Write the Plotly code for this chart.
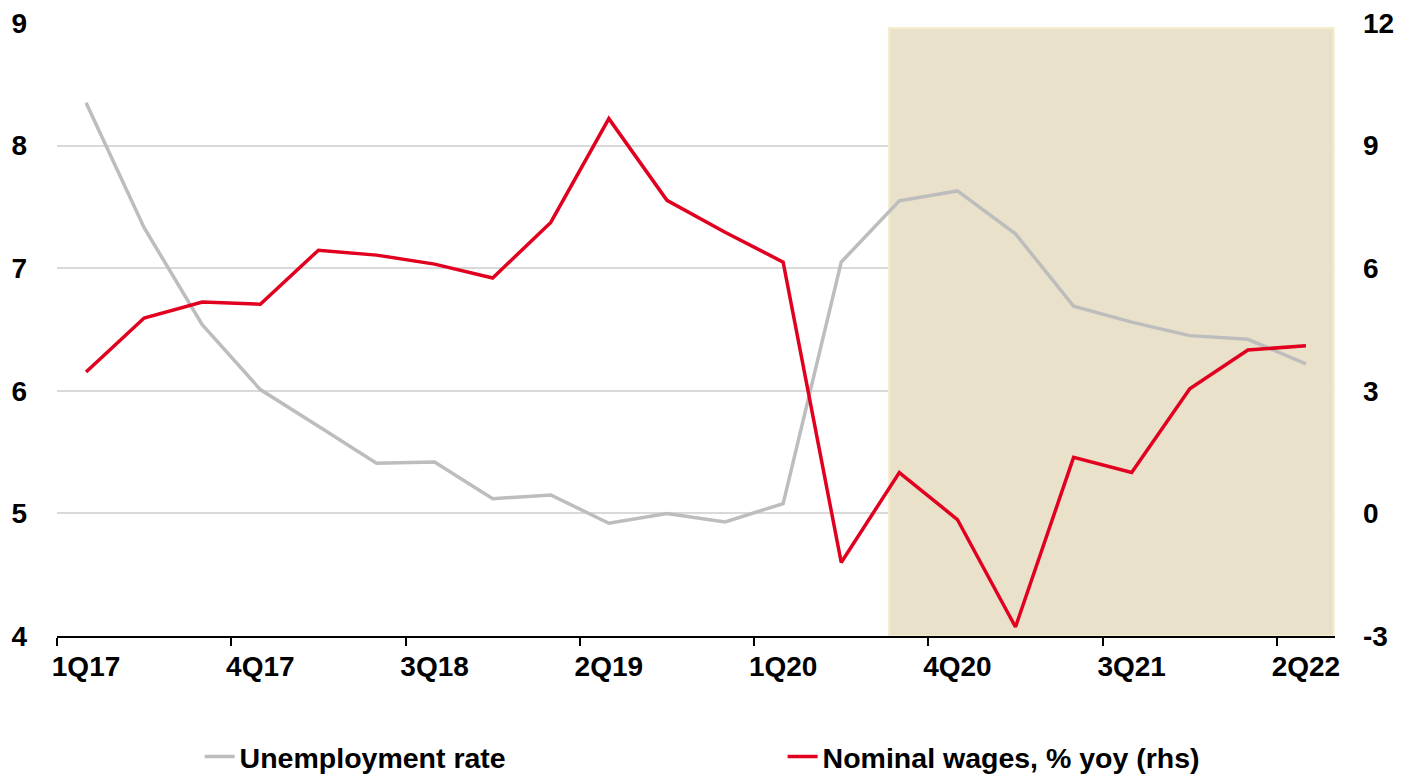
import plotly.graph_objects as go

quarters = ["1Q17","2Q17","3Q17","4Q17","1Q18","2Q18","3Q18","4Q18","1Q19","2Q19","3Q19","4Q19",
            "1Q20","2Q20","3Q20","4Q20","1Q21","2Q21","3Q21","4Q21","1Q22","2Q22"]
unemployment = [8.35,7.33,6.54,6.01,5.71,5.41,5.42,5.12,5.15,4.92,5.00,4.93,
                5.08,7.05,7.55,7.63,7.28,6.69,6.56,6.45,6.42,6.22]
wages = [3.46,4.78,5.17,5.12,6.44,6.32,6.10,5.76,7.12,9.66,7.66,6.88,
         6.15,-1.20,1.00,-0.15,-2.78,1.37,1.00,3.05,4.00,4.10]
tick_every = 3
left_ticks = [4,5,6,7,8,9]
right_ticks = [-3,0,3,6,9,12]
shade_start = 13.82
shade_end = 21.48

x = list(range(len(quarters)))
FONT = "Liberation Sans, Arial, sans-serif"

fig = go.Figure()
fig.add_trace(go.Scatter(x=x, y=unemployment, name="Unemployment rate", mode="lines",
                         line=dict(color="#BDBDBD", width=3.5), yaxis="y"))
fig.add_trace(go.Scatter(x=x, y=wages, name="Nominal wages, % yoy (rhs)", mode="lines",
                         line=dict(color="#E1001F", width=3.5), yaxis="y2"))

fig.add_shape(type="rect", xref="x", yref="y", x0=shade_start, x1=shade_end, y0=4.0, y1=8.96,
              fillcolor="#E9E1CA", line=dict(color="#F4EECF", width=2), layer="between")

fig.update_layout(
    width=1403, height=777,
    margin=dict(l=57, r=68, t=23, b=141, autoexpand=False),
    paper_bgcolor="white", plot_bgcolor="white",
    font=dict(family=FONT, size=28, color="black", weight="bold"),
    showlegend=True,
    legend=dict(orientation="h", x=0.1116, xanchor="left", yref="container", y=0.0257,
                yanchor="middle",
                font=dict(size=28.5, color="black", weight="bold"), entrywidth=538,
                entrywidthmode="pixels", itemwidth=30, bgcolor="rgba(0,0,0,0)"),
    xaxis=dict(range=[-0.5, len(quarters) - 0.5], tickmode="array",
               tickvals=x[::tick_every], ticktext=quarters[::tick_every],
               ticks="", showgrid=False, zeroline=False,
               showline=True, linecolor="black", linewidth=1.5,
               ticklabelstandoff=5,
               minor=dict(tick0=-0.5, dtick=tick_every, ticks="outside", ticklen=8,
                          tickcolor="black", tickwidth=1.5, showgrid=False),
               tickfont=dict(size=28, weight="bold")),
    yaxis=dict(range=[4, 9], tickvals=left_ticks, showgrid=True, gridcolor="#D9D9D9",
               gridwidth=1.5, zeroline=False, showline=False, ticks="",
               ticklabelstandoff=29, tickfont=dict(size=28, weight="bold")),
    yaxis2=dict(range=[-3, 12], tickmode="array", tickvals=right_ticks,
                ticktext=[str(v) for v in right_ticks], overlaying="y", side="right",
                showgrid=False, zeroline=False, showline=False, ticks="",
                ticklabelstandoff=27, tickfont=dict(size=28, weight="bold")),
)

fig.write_html("out.html")
